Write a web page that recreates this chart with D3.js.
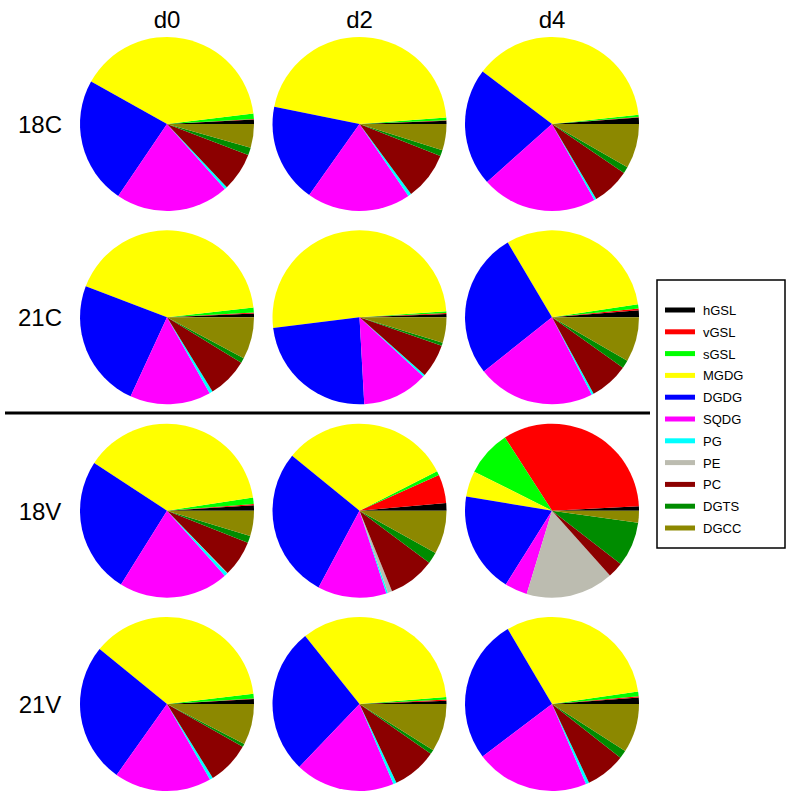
<!DOCTYPE html>
<html>
<head>
<meta charset="utf-8">
<script src="https://cdn.jsdelivr.net/npm/d3@7"></script>
<style>
  body { margin: 0; background: #fff; }
  text { font-family: 'Liberation Sans', Arial, sans-serif; }
</style>
</head>
<body>
<svg id="chart"></svg>
<script>
// lipid classes (slice order, counterclockwise from 3 o'clock)
var lipids = ["hGSL", "vGSL", "sGSL", "MGDG", "DGDG", "SQDG", "PG", "PE", "PC", "DGTS", "DGCC"];
var lipidColors = ["#000000", "#ff0000", "#00ff00", "#ffff00", "#0000ff", "#ff00ff", "#00ffff", "#bcbcb0", "#8c0000", "#008c00", "#8c8800"];

var days = ["d0", "d2", "d4"];
var conditions = ["18C", "21C", "18V", "21V"];

// % of total, one array per day
var p18C = [
  [0.8, 0.1, 1.0, 39.9, 23.6, 21.0, 0.5, 0, 7.1, 1.4, 4.4],
  [0.6, 0.1, 0.5, 45.6, 18.4, 19.3, 0.6, 0, 8.9, 1.1, 4.9],
  [1.2, 0.1, 0.4, 38.0, 21.9, 21.5, 0.4, 0, 7.0, 1.2, 8.3]
];
var p21C = [
  [0.7, 0.2, 0.9, 42.3, 23.9, 15.0, 0.6, 0, 7.5, 0.9, 7.8],
  [0.6, 0.2, 0.3, 50.8, 23.9, 12.2, 0.4, 0, 6.2, 0.6, 4.7],
  [1.3, 0.3, 0.8, 31.0, 27.1, 21.8, 0.4, 0, 7.2, 1.5, 8.3]
];
var p18V = [
  [1.0, 0.2, 1.2, 38.3, 25.3, 20.4, 0.6, 0.1, 6.7, 1.3, 4.7],
  [1.4, 5.3, 0.8, 31.6, 28.1, 12.8, 0.3, 0.8, 8.7, 2.1, 8.1],
  [0.8, 33.3, 8.5, 4.8, 18.7, 4.2, 0, 16.3, 2.9, 8.3, 2.2]
];
var p21V = [
  [0.9, 0.1, 0.9, 37.3, 26.1, 18.1, 0.6, 0, 8.0, 0.6, 7.6],
  [0.6, 0.2, 0.5, 34.4, 27.1, 18.5, 0.6, 0, 8.3, 0.8, 8.9],
  [1.2, 0.2, 0.9, 31.2, 26.8, 21.1, 0.6, 0, 7.4, 1.5, 9.1]
];
var allData = [p18C, p21C, p18V, p21V];

var width = 790, height = 794;
var svg = d3.select("#chart").attr("width", width).attr("height", height);

var x = d3.scalePoint().domain(days).range([167, 552]);
var y = d3.scalePoint().domain(conditions).range([124, 704]);
var r = 87;

var pie = d3.pie().sort(null)
  .startAngle(Math.PI / 2)
  .endAngle(Math.PI / 2 - 2 * Math.PI);
var arc = d3.arc().innerRadius(0).outerRadius(r);

conditions.forEach(function(cond, i){
  days.forEach(function(day, j){
    var g = svg.append("g")
      .attr("transform", "translate(" + x(day) + "," + y(cond) + ")");
    g.selectAll("path")
      .data(pie(allData[i][j]))
      .enter().append("path")
      .attr("d", arc)
      .attr("fill", function(d, k){ return lipidColors[k]; });
  });
});

// column titles
svg.selectAll("text.col")
  .data(days)
  .enter().append("text")
  .attr("class", "col")
  .attr("x", function(d){ return x(d); })
  .attr("y", 28)
  .attr("text-anchor", "middle")
  .style("font-size", "24px")
  .text(function(d){ return d; });

// row labels
svg.selectAll("text.row")
  .data(conditions)
  .enter().append("text")
  .attr("class", "row")
  .attr("x", 40)
  .attr("y", function(d){ return y(d) + 9; })
  .attr("text-anchor", "middle")
  .style("font-size", "24px")
  .text(function(d){ return d; });

// separator between C and V
svg.append("line")
  .attr("x1", 5).attr("x2", 650)
  .attr("y1", 413).attr("y2", 413)
  .attr("stroke", "#000").attr("stroke-width", 3);

// legend
var lg = svg.append("g").attr("transform", "translate(657,280)");
lg.append("rect")
  .attr("width", 128).attr("height", 268)
  .attr("fill", "#fff").attr("stroke", "#000").attr("stroke-width", 1.5);
var ly = d3.scaleLinear().domain([0, lipids.length - 1]).range([30, 248]);
var item = lg.selectAll("g.item")
  .data(lipids)
  .enter().append("g")
  .attr("class", "item")
  .attr("transform", function(d, i){ return "translate(0," + ly(i) + ")"; });
item.append("line")
  .attr("x1", 8).attr("x2", 38)
  .attr("stroke", function(d, i){ return lipidColors[i]; })
  .attr("stroke-width", 5);
item.append("text")
  .attr("x", 46).attr("y", 5)
  .style("font-size", "13px")
  .text(function(d){ return d; });
</script>
</body>
</html>
